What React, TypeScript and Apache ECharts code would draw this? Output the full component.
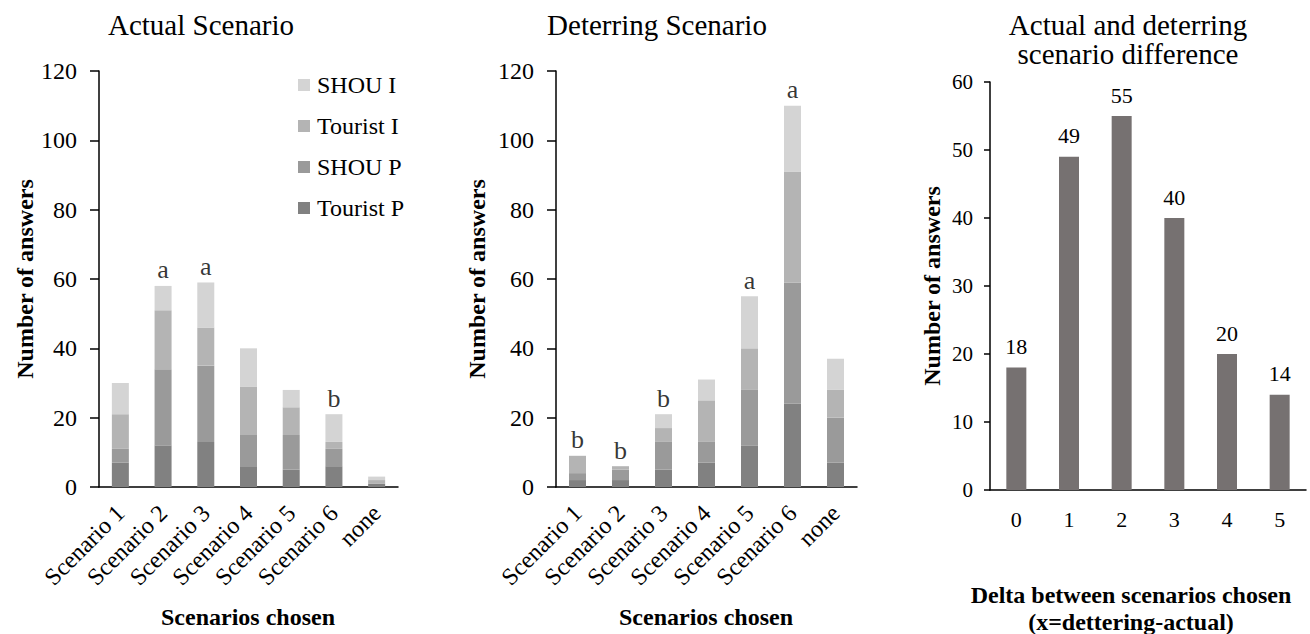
import React, { useEffect, useRef } from "react";
import * as echarts from "echarts";

// ---- data ----
const scenarioCats = ["Scenario 1", "Scenario 2", "Scenario 3", "Scenario 4", "Scenario 5", "Scenario 6", "none"];
const legendOrder = ["SHOU I", "Tourist I", "SHOU P", "Tourist P"];

const actualTouristP = [7, 12, 13, 6, 5, 6, 1];
const actualShouP = [4, 22, 22, 9, 10, 5, 0];
const actualTouristI = [10, 17, 11, 14, 8, 2, 1];
const actualShouI = [9, 7, 13, 11, 5, 8, 1];
const actualLetters = ["", "a", "a", "", "", "b", ""];

const deterTouristP = [2, 2, 5, 7, 12, 24, 7];
const deterShouP = [2, 3, 8, 6, 16, 35, 13];
const deterTouristI = [5, 1, 4, 12, 12, 32, 8];
const deterShouI = [0, 0, 4, 6, 15, 19, 9];
const deterLetters = ["b", "b", "b", "", "a", "a", ""];

const deltaCats = ["0", "1", "2", "3", "4", "5"];
const deltaValues = [18, 49, 55, 40, 20, 14];

const colors: Record<string, string> = {
  "Tourist P": "#818181",
  "SHOU P": "#9a9a9a",
  "Tourist I": "#b4b4b4",
  "SHOU I": "#d4d4d4",
};

const FONT = '"Liberation Serif", "Times New Roman", serif';

function sumArrays(...arrs: number[][]) {
  return arrs[0].map((_, i) => arrs.reduce((s, a) => s + a[i], 0));
}

export default function App() {
  const ref = useRef<HTMLDivElement>(null);

  useEffect(() => {
    document.body.style.margin = "0";
    if (!ref.current) return;
    const chart = echarts.init(ref.current, null, { renderer: "svg" });

    const stackSeries = (idx: number, stack: string, tp: number[], sp: number[], ti: number[], si: number[], letters: string[]) => {
      const parts: [string, number[]][] = [
        ["Tourist P", tp],
        ["SHOU P", sp],
        ["Tourist I", ti],
        ["SHOU I", si],
      ];
      const list: any[] = parts.map(([name, data]) => ({
        type: "bar",
        name,
        stack,
        xAxisIndex: idx,
        yAxisIndex: idx,
        data,
        barWidth: 17,
        itemStyle: { color: colors[name] },
      }));
      const totals = sumArrays(tp, sp, ti, si);
      list.push({
        type: "scatter",
        xAxisIndex: idx,
        yAxisIndex: idx,
        symbolSize: 0,
        silent: true,
        data: totals.map((t, i) => ({
          value: t,
          label: {
            show: letters[i] !== "",
            formatter: letters[i],
          },
        })),
        label: {
          position: "top",
          distance: 3,
          fontFamily: FONT,
          fontSize: 26,
          color: "#000",
        },
      });
      return list;
    };

    const catX = (idx: number, data: string[], rotate: number, fontSize: number, margin: number) => ({
      type: "category",
      gridIndex: idx,
      data,
      axisLine: { show: true, lineStyle: { color: "#000", width: 1.5 } },
      axisTick: { show: false },
      axisLabel: {
        interval: 0,
        rotate,
        fontFamily: FONT,
        fontSize,
        color: "#000",
        margin,
      },
      splitLine: { show: false },
    });

    const valY = (idx: number, max: number, interval: number, fontSize: number, tickLen: number, margin: number) => ({
      type: "value",
      gridIndex: idx,
      min: 0,
      max,
      interval,
      axisLine: { show: true, lineStyle: { color: "#000", width: 1.5 } },
      axisTick: { show: true, inside: false, length: tickLen, lineStyle: { color: "#000", width: 1.5 } },
      axisLabel: { fontFamily: FONT, fontSize, color: "#000", margin },
      splitLine: { show: false },
    });

    const txt = (text: string, x: number, y: number, size: number, bold = false, rotation = 0) => ({
      type: "text",
      x,
      y,
      rotation,
      silent: true,
      style: {
        text,
        font: `${bold ? "bold " : ""}${size}px ${FONT}`,
        fill: "#000",
        align: "center",
        verticalAlign: "middle",
        textAlign: "center",
        textVerticalAlign: "middle",
      },
    });

    const option: any = {
      animation: false,
      backgroundColor: "#fff",
      textStyle: { fontFamily: FONT },
      grid: [
        { left: 99, top: 71, width: 299, height: 416, containLabel: false },
        { left: 556, top: 71, width: 301, height: 416, containLabel: false },
        { left: 990, top: 82, width: 316, height: 408, containLabel: false },
      ],
      legend: {
        data: legendOrder,
        orient: "vertical",
        left: 293,
        top: 68,
        itemWidth: 12,
        itemHeight: 12,
        itemGap: 17,
        icon: "rect",
        selectedMode: false,
        textStyle: { fontFamily: FONT, fontSize: 24, color: "#000", padding: [0, 0, 0, 2] },
      },
      xAxis: [
        catX(0, scenarioCats, 45, 24, 22),
        catX(1, scenarioCats, 45, 24, 22),
        catX(2, deltaCats, 0, 22, 18),
      ],
      yAxis: [
        valY(0, 120, 20, 24, 9, 22),
        valY(1, 120, 20, 24, 9, 22),
        valY(2, 60, 10, 21, 6, 17),
      ],
      series: [
        ...stackSeries(0, "actual", actualTouristP, actualShouP, actualTouristI, actualShouI, actualLetters),
        ...stackSeries(1, "deter", deterTouristP, deterShouP, deterTouristI, deterShouI, deterLetters),
        {
          type: "bar",
          name: "Delta",
          xAxisIndex: 2,
          yAxisIndex: 2,
          data: deltaValues,
          barWidth: 20,
          itemStyle: { color: "#767171" },
          label: {
            show: true,
            position: "top",
            distance: 10,
            fontFamily: FONT,
            fontSize: 22,
            color: "#000",
          },
        },
      ],
      graphic: [
        txt("Actual Scenario", 201, 25, 29),
        txt("Deterring Scenario", 657, 25, 29),
        txt("Actual and deterring", 1128, 25, 29),
        txt("scenario difference", 1128, 54, 29),
        txt("Number of answers", 25, 279, 24, true, Math.PI / 2),
        txt("Number of answers", 477, 279, 24, true, Math.PI / 2),
        txt("Number of answers", 932, 286, 24, true, Math.PI / 2),
        txt("Scenarios chosen", 248, 617, 24, true),
        txt("Scenarios chosen", 706, 617, 24, true),
        txt("Delta between scenarios chosen", 1131, 595, 24, true),
        txt("(x=dettering-actual)", 1131, 622, 24, true),
      ],
    };

    chart.setOption(option);
    return () => chart.dispose();
  }, []);

  return <div ref={ref} style={{ width: 1310, height: 634 }} />;
}
